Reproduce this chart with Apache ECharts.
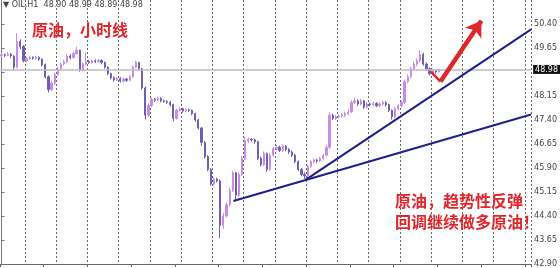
<!DOCTYPE html>
<html>
<head>
<meta charset="utf-8">
<script src="https://cdn.jsdelivr.net/npm/echarts@6/dist/echarts.min.js"></script>
<style>html,body{margin:0;padding:0;background:#fff;}#c{width:560px;height:268px;}</style>
</head>
<body>
<div id="c"></div>
<script>
const opens = [
49.40,49.44,49.42,49.46,49.40,49.05,49.85,49.70,49.25,49.32,
49.35,49.33,49.36,49.30,49.13,48.75,48.35,48.55,48.82,49.00,
49.15,49.22,49.40,49.35,49.48,49.58,48.95,49.15,49.22,49.20,
49.25,49.23,49.26,49.20,49.05,48.85,48.72,48.66,48.70,48.62,
48.68,48.64,48.75,49.05,49.20,49.00,48.40,47.55,47.85,48.05,
48.02,48.08,48.00,47.98,47.95,47.88,47.45,47.70,47.75,47.68,
47.72,47.70,47.60,47.40,47.15,46.70,46.25,45.85,45.40,45.55,
45.50,44.10,44.40,44.75,45.20,45.75,45.05,45.70,46.20,46.75,
46.80,46.78,46.72,46.20,46.00,46.35,45.85,46.30,46.50,46.55,
46.45,46.58,46.48,46.40,46.30,46.10,45.85,45.70,45.65,45.95,
46.10,46.15,46.12,46.20,46.30,46.55,47.55,47.45,47.50,47.52,
47.55,47.60,47.65,47.95,48.00,47.90,48.00,47.80,47.90,47.88,
47.92,47.85,47.90,47.95,47.88,47.70,47.50,47.75,47.85,47.95,
48.60,48.75,49.00,49.15,49.25,49.45,49.15,49.00,48.85,48.95,
48.90];
const closes = [
49.44,49.42,49.46,49.40,49.05,49.85,49.70,49.25,49.32,49.35,
49.33,49.36,49.30,49.13,48.75,48.35,48.55,48.82,49.00,49.15,
49.22,49.40,49.35,49.48,49.58,48.95,49.15,49.22,49.20,49.25,
49.23,49.26,49.20,49.05,48.85,48.72,48.66,48.70,48.62,48.68,
48.64,48.75,49.05,49.20,49.00,48.40,47.55,47.85,48.05,48.02,
48.08,48.00,47.98,47.95,47.88,47.45,47.70,47.75,47.68,47.72,
47.70,47.60,47.40,47.15,46.70,46.25,45.85,45.40,45.55,45.50,
44.10,44.40,44.75,45.20,45.75,45.05,45.70,46.20,46.75,46.80,
46.78,46.72,46.20,46.00,46.35,45.85,46.30,46.50,46.55,46.45,
46.58,46.48,46.40,46.30,46.10,45.85,45.70,45.65,45.95,46.10,
46.15,46.12,46.20,46.30,46.55,47.55,47.45,47.50,47.52,47.55,
47.60,47.65,47.95,48.00,47.90,48.00,47.80,47.90,47.88,47.92,
47.85,47.90,47.95,47.88,47.70,47.50,47.75,47.85,47.95,48.60,
48.75,49.00,49.15,49.25,49.45,49.15,49.00,48.85,48.95,48.90,
48.98];
const lows = [
49.36,49.37,49.39,49.34,48.97,49.02,49.62,49.20,49.21,49.28,
49.28,49.29,49.25,49.08,48.70,48.26,48.30,48.50,48.78,48.95,
49.10,49.18,49.30,49.32,49.44,48.91,48.92,49.10,49.15,49.16,
49.18,49.19,49.14,49.00,48.80,48.67,48.60,48.62,48.57,48.58,
48.59,48.61,48.72,49.02,48.95,48.35,47.42,47.50,47.80,47.96,
47.98,47.95,47.93,47.90,47.82,47.36,47.42,47.66,47.63,47.64,
47.65,47.55,47.35,47.10,46.59,46.20,45.80,45.35,45.36,45.45,
43.71,44.00,44.35,44.70,45.15,44.90,45.00,45.65,46.15,46.68,
46.72,46.66,46.15,45.95,45.96,45.78,45.82,46.25,46.45,46.40,
46.40,46.42,46.34,46.24,46.05,45.80,45.64,45.56,45.60,45.90,
46.05,46.06,46.08,46.16,46.26,46.50,47.40,47.40,47.45,47.47,
47.50,47.55,47.62,47.90,47.84,47.86,47.75,47.76,47.82,47.83,
47.80,47.80,47.85,47.82,47.65,47.42,47.46,47.70,47.80,47.90,
48.55,48.70,48.95,49.08,49.20,49.10,48.94,48.80,48.82,48.85,
48.89];
const highs = [
49.50,49.48,49.52,49.49,49.42,50.12,49.92,49.74,49.37,49.40,
49.39,49.41,49.39,49.33,49.16,48.80,48.62,48.88,49.06,49.20,
49.28,49.45,49.46,49.54,49.69,49.60,49.20,49.50,49.28,49.30,
49.29,49.31,49.30,49.23,49.08,48.88,48.76,48.75,48.74,48.72,
48.71,48.80,49.10,49.25,49.22,49.03,48.45,47.92,48.10,48.09,
48.13,48.11,48.04,48.02,47.99,47.91,47.76,47.80,47.79,47.77,
47.76,47.73,47.63,47.43,47.18,46.75,46.30,45.90,45.62,45.60,
45.54,44.50,44.82,45.28,45.80,45.78,45.76,46.28,46.87,46.85,
46.84,46.82,46.75,46.26,46.42,46.38,46.36,46.56,46.62,46.60,
46.64,46.62,46.52,46.45,46.34,46.14,45.90,45.76,46.00,46.15,
46.20,46.19,46.25,46.35,46.62,47.64,47.60,47.56,47.58,47.61,
47.66,47.72,48.02,48.10,48.05,48.06,48.03,47.96,47.95,47.97,
47.96,47.95,48.00,47.99,47.91,47.73,47.80,47.90,48.00,48.66,
48.82,49.06,49.22,49.32,49.59,49.50,49.20,49.04,49.00,48.98,
48.99];
const barSlots = 170;
const categories = Array.from({length: barSlots}, (_, i) => 'H' + i);
const lastPrice = 48.98;
const headerText = '▼ OIL,H1  48.90 48.99 48.89 48.98';
const yMin = 42.90, yMax = 51.15, yStep = 0.75;
const trendLow = [[74.2, 44.87], [169.5, 47.57]];
const trendHigh = [[97.3, 45.53], [169.5, 50.23]];
const pullback = [[137.4, 48.91], [140.5, 48.60]];
const arrowUp = [[140.5, 48.60], [153.6, 50.50]];

const ohlc = opens.map((o, i) => [o, closes[i], lows[i], highs[i]]);
const red = '#e0262b';
const navy = '#1f1f8c';

const chart = echarts.init(document.getElementById('c'), null, {renderer: 'canvas'});
chart.setOption({
  animation: false,
  backgroundColor: '#fff',
  title: [
    {text: headerText, left: 3, top: 1, padding: 0,
     textStyle: {fontSize: 8, color: '#444', fontWeight: 'normal', fontFamily: 'DejaVu Sans'}},
    {text: '原油，小时线', left: 32, top: 22, padding: 0,
     textStyle: {fontSize: 16, fontWeight: 'bold', color: red, fontFamily: 'Noto Sans CJK SC'}},
    {text: '原油，趋势性反弹\n回调继续做多原油！', left: 395, top: 190, padding: 0,
     textStyle: {fontSize: 16, fontWeight: 'bold', color: red, lineHeight: 21, fontFamily: 'Noto Sans CJK SC'}}
  ],
  grid: {left: 0, right: 21, top: 0, bottom: 2, containLabel: false},
  xAxis: [
    {type: 'category', data: categories, boundaryGap: true,
     axisLine: {show: true, lineStyle: {color: '#666'}},
     axisTick: {show: true, interval: 13, length: 3, lineStyle: {color: '#666'}},
     axisLabel: {show: false},
     splitLine: {show: true, interval: (idx) => idx >= 8 && (idx - 8) % 10 === 0,
                 lineStyle: {color: '#666', type: [2, 2], width: 1}}},
    {type: 'value', min: -0.5, max: barSlots - 0.5, show: false}
  ],
  yAxis: {
    type: 'value', position: 'right', min: yMin, max: yMax, interval: yStep, scale: true,
    axisLine: {show: true, lineStyle: {color: '#777'}},
    axisTick: {show: true, length: 3, lineStyle: {color: '#777'}},
    axisLabel: {fontSize: 8, color: '#444', margin: 3, showMaxLabel: false,
                fontFamily: 'DejaVu Sans',
                formatter: v => Math.abs(v - lastPrice) < 0.2 ? '' : v.toFixed(2)},
    splitLine: {show: false}
  },
  series: [
    {type: 'candlestick', data: ohlc, barWidth: '55%',
     itemStyle: {color: '#c98ae8', color0: '#6d5fb5', borderColor: '#c98ae8', borderColor0: '#6d5fb5', borderWidth: 1},
     markLine: {symbol: 'none', silent: true, animation: false,
       lineStyle: {color: '#bdbdbd', width: 1.5, type: 'solid'},
       label: {position: 'end', formatter: lastPrice.toFixed(2), backgroundColor: '#111', color: '#fff',
               fontSize: 8, padding: [1, 2, 0, 2], distance: 2, fontFamily: 'DejaVu Sans'},
       data: [{yAxis: lastPrice}]}
    },
    {type: 'line', xAxisIndex: 1, data: trendLow, symbol: 'none', z: 5,
     lineStyle: {color: navy, width: 2}},
    {type: 'line', xAxisIndex: 1, data: trendHigh, symbol: 'none', z: 5,
     lineStyle: {color: navy, width: 2}},
    {type: 'line', xAxisIndex: 1, data: pullback, symbol: 'none', z: 6,
     lineStyle: {color: red, width: 2.5}},
    {type: 'lines', coordinateSystem: 'cartesian2d', xAxisIndex: 1, z: 6,
     symbol: ['none', 'arrow'], symbolSize: 15,
     lineStyle: {color: red, width: 4.5, opacity: 1},
     data: [{coords: arrowUp}]}
  ]
});
</script>
</body>
</html>
